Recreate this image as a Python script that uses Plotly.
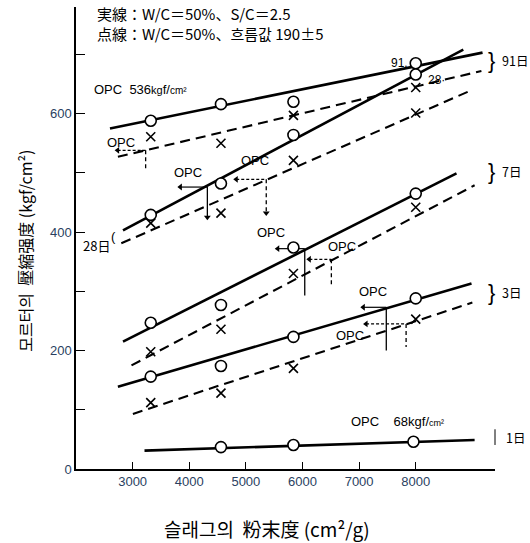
import plotly.graph_objects as go

# ---- measured strengths (kgf/cm2) against slag fineness (cm2/g) ----
fineness = [3320, 4560, 5840, 8000]
fineness_1d = [4560, 5840, 7960]

solid_91 = [588, 616, 620, 685]
dashed_91 = [561, 550, 597, 644]
solid_28 = [429, 482, 564, 666]
dashed_28 = [415, 432, 521, 601]
solid_7 = [247, 277, 374, 465]
dashed_7 = [198, 236, 330, 442]
solid_3 = [156, 174, 223, 288]
dashed_3 = [112, 128, 170, 253]
solid_1 = [37, 40.5, 46]

# ---- regression lines: (fineness at ends, strength at ends) ----
fit_solid_91 = ([2600, 9180], [575, 703])
fit_dashed_91 = ([2740, 9160], [527, 672])
fit_solid_28 = ([2830, 8840], [403, 708])
fit_dashed_28 = ([2800, 8925], [381, 637])
fit_solid_7 = ([2830, 8720], [215, 499])
fit_dashed_7 = ([2980, 9040], [175, 479])
fit_solid_3 = ([2740, 8985], [139, 313])
fit_dashed_3 = ([3005, 9000], [93, 281])
fit_solid_1 = ([3210, 9040], [31, 49])

# ---- OPC reference strength and the equivalent slag fineness ----
opc_fineness = [3230, 4320, 5360, 6040, 6510, 7480, 7830]
opc_strength = [538, 476, 489, 372, 354, 273, 245]
opc_kind = ["dashed", "solid", "dashed", "solid", "dashed", "solid", "dashed"]
opc_label_x = [2800, 3970, 5155, 5450, 6690, 7245, 6835]
opc_label_y = [552, 501, 521, 399, 375, 299, 226]

age_labels = ["91日", "7日", "3日", "1日"]

x_ticks = [3000, 4000, 5000, 6000, 7000, 8000]
y_ticks = [0, 100, 200, 300, 400, 500, 600, 700]
y_ticktext = ["0", "", "200", "", "400", "", "600", ""]

# arrow styling (lengths in axis units)
arrow_left = [495, 477, 530, 477, 389, 406, 707]
arrow_drop = [34, 51, 57, 79, 46, 73, 39]
drop_head = [False, True, True, False, False, False, False]

SANS = "Liberation Sans, Arial, sans-serif"
CJK = "Noto Sans CJK JP, Noto Sans CJK KR, sans-serif"
KR = "Noto Sans CJK KR, sans-serif"

DASH = "10px,6px"

fig = go.Figure()


def add_fit(fit, dashed):
    fig.add_trace(go.Scatter(
        x=fit[0], y=fit[1], mode="lines",
        line=dict(color="black", width=2.1 if dashed else 2.6,
                  dash=DASH if dashed else "solid"),
        hoverinfo="skip", showlegend=False))


for fit, dashed in [(fit_solid_91, False), (fit_dashed_91, True),
                    (fit_solid_28, False), (fit_dashed_28, True),
                    (fit_solid_7, False), (fit_dashed_7, True),
                    (fit_solid_3, False), (fit_dashed_3, True),
                    (fit_solid_1, False)]:
    add_fit(fit, dashed)

# OPC equivalence arrows
for fx, fy, kind, dl, dd, head in zip(opc_fineness, opc_strength, opc_kind,
                                      arrow_left, arrow_drop, drop_head):
    dsh = "3px,2px" if kind == "dashed" else "solid"
    fig.add_trace(go.Scatter(
        x=[fx - dl, fx], y=[fy, fy], mode="lines",
        line=dict(color="black", width=1.2, dash=dsh),
        hoverinfo="skip", showlegend=False))
    fig.add_trace(go.Scatter(
        x=[fx, fx], y=[fy, fy - dd], mode="lines",
        line=dict(color="black", width=1.3,
                  dash="4px,3px" if kind == "dashed" else "solid"),
        hoverinfo="skip", showlegend=False))
    fig.add_trace(go.Scatter(
        x=[fx - dl], y=[fy], mode="markers",
        marker=dict(symbol="triangle-left", size=6, color="black"),
        hoverinfo="skip", showlegend=False))
    if head:
        fig.add_trace(go.Scatter(
            x=[fx], y=[fy - dd], mode="markers",
            marker=dict(symbol="triangle-down", size=6, color="black"),
            hoverinfo="skip", showlegend=False))

# measured points
for vals in [solid_91, solid_28, solid_7, solid_3]:
    fig.add_trace(go.Scatter(
        x=fineness, y=vals, mode="markers",
        marker=dict(symbol="circle", size=11, color="white",
                    line=dict(color="black", width=1.6)),
        showlegend=False))
fig.add_trace(go.Scatter(
    x=fineness_1d, y=solid_1, mode="markers",
    marker=dict(symbol="circle", size=11, color="white",
                line=dict(color="black", width=1.6)),
    showlegend=False))
for vals in [dashed_91, dashed_28, dashed_7, dashed_3]:
    fig.add_trace(go.Scatter(
        x=fineness, y=vals, mode="markers",
        marker=dict(symbol="x-thin", size=9,
                    line=dict(color="black", width=1.6)),
        showlegend=False))

ann = []


def text(x, y, s, size=13, family=SANS, xanchor="center", ref="x", **kw):
    ann.append(dict(x=x, y=y, text=s, showarrow=False, xanchor=xanchor,
                    xref="x" if ref == "x" else "paper",
                    yref="y" if ref == "x" else "paper",
                    yanchor="middle", font=dict(size=size, family=family,
                                                color="black"), **kw))


for lx, ly in zip(opc_label_x, opc_label_y):
    text(lx, ly, "OPC")

text(2290, 640, "OPC  536<span style='font-size:11px'>kg</span>f/"
     "<span style='font-size:10px'>cm²</span>", xanchor="left")
text(6815, 81, "OPC    68kgf/<span style='font-size:9px'>cm²</span>",
     xanchor="left")
text(7717, 685, "91.", size=12)
text(8370, 656, "28·", size=12)
text(2355, 378, "28日", size=13, family=CJK)
text(2660, 393, "(", size=13, family=SANS)

# age brackets on the right (paper coordinates)
for yp, lab in zip([0.885, 0.643, 0.381], age_labels[:3]):
    text(0.992, yp, "}", size=22, family=SANS, ref="paper")
    text(1.013, yp, lab, size=12.5, family=CJK, ref="paper", xanchor="left")
text(1.022, 0.069, age_labels[3], size=12.5, family=CJK, ref="paper",
     xanchor="left")

# key (two lines in one block)
ann.append(dict(
    xref="paper", yref="paper", x=0.045, y=1.012,
    xanchor="left", yanchor="top", align="left", showarrow=False,
    text="実線：W/C＝50%、S/C＝2.5<br>"
         "点線：W/C＝50%、<span style='font-family:Noto Sans CJK KR'>흐름값</span> 190±5",
    font=dict(size=15, family=CJK, color="black")))

# axis titles
ann.append(dict(xref="paper", yref="paper", x=-0.122, y=0.472,
                text="모르터의  壓縮强度 (kgf/cm²)", textangle=-90,
                showarrow=False, xanchor="center", yanchor="middle",
                font=dict(size=16, family=KR, color="black")))
ann.append(dict(xref="paper", yref="paper", x=0.455, y=-0.128,
                text="슬래그의  粉末度 (cm²/g)", showarrow=False,
                xanchor="center", yanchor="middle",
                font=dict(size=19, family=KR, color="black")))

fig.update_layout(
    width=530, height=543,
    margin=dict(l=76, r=35, t=7, b=74),
    paper_bgcolor="white", plot_bgcolor="white",
    annotations=ann,
    shapes=[dict(type="line", xref="paper", yref="paper",
                 x0=1.0, x1=1.0, y0=0.052, y1=0.086,
                 line=dict(color="black", width=1))],
    xaxis=dict(range=[2000, 9400], showline=True, linecolor="black",
               linewidth=1.5, ticks="inside", ticklen=7, tickwidth=1.3,
               tickcolor="black", tickvals=x_ticks, showgrid=False,
               zeroline=False, tickfont=dict(size=13, family=SANS)),
    yaxis=dict(range=[0, 780], showline=True, linecolor="black",
               linewidth=1.5, ticks="inside", ticklen=9, tickwidth=1.3,
               tickcolor="black", tickvals=y_ticks, ticktext=y_ticktext,
               showgrid=False, zeroline=False,
               tickfont=dict(size=13, family=SANS)),
)

fig.write_html("out.html")
